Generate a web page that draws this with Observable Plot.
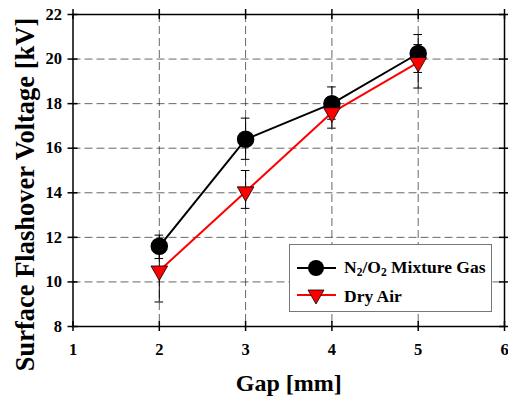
<!DOCTYPE html>
<html>
<head>
<meta charset="utf-8">
<script src="https://cdn.jsdelivr.net/npm/d3@7"></script>
<script src="https://cdn.jsdelivr.net/npm/@observablehq/plot@0.6"></script>
<style>
  html, body { margin: 0; padding: 0; background: #fff; }
  #wrap { position: relative; width: 508px; height: 401px; font-family: "Liberation Serif", "Times New Roman", serif; font-weight: bold; }
  #legend { position: absolute; left: 289px; top: 244px; width: 201px; height: 66px; border: 1.5px solid #777; background: #fff; box-sizing: content-box; }
  .row { position: absolute; left: 6px; display: flex; align-items: center; font-size: 17.5px; color: #000; white-space: nowrap; }
  .row svg { margin-right: 8px; }
  sub { font-size: 11.5px; vertical-align: -3px; line-height: 0; }
</style>
</head>
<body>
<div id="wrap"></div>
<script>
// ---- data ----
const gap = [2, 3, 4, 5];
const n2o2 = [11.6, 16.4, 18.0, 20.25];
const n2o2Lo = [11.05, 15.5, 17.3, 19.4];
const n2o2Hi = [12.1, 17.35, 18.75, 21.1];
const dryAir = [10.5, 14.05, 17.6, 19.85];
const dryLo = [9.1, 13.3, 16.9, 18.7];
const dryHi = [11.9, 15.0, 18.3, 20.65];
const xTicks = [1, 2, 3, 4, 5, 6];
const yTicks = [8, 10, 12, 14, 16, 18, 20, 22];
const xGrid = [2, 3, 4, 5];
const yGrid = [10, 12, 14, 16, 18, 20];
const seriesNames = ["N2/O2 Mixture Gas", "Dry Air"];

const W = 508, H = 401;
const mL = 72.5, mR = 4, mT = 14, mB = 75;
const innerW = W - mL - mR, innerH = H - mT - mB;
const capHalf = 0.05;
const FONT = "'Liberation Serif', 'Times New Roman', serif";

const n2 = gap.map((g, i) => ({x: g, y: n2o2[i], lo: n2o2Lo[i], hi: n2o2Hi[i]}));
const dry = gap.map((g, i) => ({x: g, y: dryAir[i], lo: dryLo[i], hi: dryHi[i]}));

const errMarks = (data) => [
  Plot.ruleX(data, {x: "x", y1: "lo", y2: "hi", stroke: "#000", strokeWidth: 1}),
  Plot.ruleY(data, {y: "lo", x1: d => d.x - capHalf, x2: d => d.x + capHalf, stroke: "#000", strokeWidth: 1}),
  Plot.ruleY(data, {y: "hi", x1: d => d.x - capHalf, x2: d => d.x + capHalf, stroke: "#000", strokeWidth: 1})
];

const chart = Plot.plot({
  width: W, height: H,
  marginLeft: mL, marginRight: mR, marginTop: mT, marginBottom: mB,
  style: {fontFamily: FONT, fontWeight: "bold", background: "#fff", overflow: "visible"},
  x: {domain: [1, 6], axis: null},
  y: {domain: [8, 22], axis: null},
  marks: [
    // grid
    Plot.ruleX(xGrid, {x: d => d, stroke: "#000", strokeOpacity: 0.6, strokeWidth: 1, strokeDasharray: "8,4"}),
    Plot.ruleY(yGrid, {y: d => d, stroke: "#000", strokeOpacity: 0.6, strokeWidth: 1, strokeDasharray: "8,4"}),
    // error bars
    ...errMarks(n2),
    ...errMarks(dry),
    // lines
    Plot.line(n2, {x: "x", y: "y", stroke: "#000", strokeWidth: 2}),
    Plot.line(dry, {x: "x", y: "y", stroke: "#ff0000", strokeWidth: 2}),
    // markers
    Plot.dot(n2, {x: "x", y: "y", r: 8, fill: "#000", stroke: "#000"}),
    Plot.dot(dry, {x: "x", y: "y", r: 6.2, symbol: "triangle", rotate: 180, fill: "#ff0000", stroke: "#000", strokeWidth: 0.8}),
    // frame
    Plot.frame({stroke: "#000", strokeWidth: 1.5}),
    // crossing ticks on four sides
    Plot.tickX(xTicks, {x: d => d, insetTop: innerH - 5, insetBottom: -5, stroke: "#000", strokeWidth: 1.5}),
    Plot.tickX(xTicks, {x: d => d, insetTop: -5, insetBottom: innerH - 5, stroke: "#000", strokeWidth: 1.5}),
    Plot.tickY(yTicks, {y: d => d, insetLeft: -5, insetRight: innerW - 5, stroke: "#000", strokeWidth: 1.5}),
    Plot.tickY(yTicks, {y: d => d, insetLeft: innerW - 5, insetRight: -5, stroke: "#000", strokeWidth: 1.5}),
    // tick labels
    Plot.text(xTicks, {x: d => d, frameAnchor: "bottom", dy: 23, text: d => String(d), fontFamily: FONT, fontSize: 16.5, fontWeight: "bold", fill: "#000", lineAnchor: "middle"}),
    Plot.text(yTicks, {y: d => d, frameAnchor: "left", dx: -11, text: d => String(d), fontFamily: FONT, fontSize: 16.5, fontWeight: "bold", fill: "#000", textAnchor: "end", lineAnchor: "middle"}),
    // axis titles
    Plot.text(["Gap [mm]"], {frameAnchor: "bottom", dy: 57, text: d => d, fontFamily: FONT, fontSize: 24, fontWeight: "bold", fill: "#000", lineAnchor: "middle"}),
    Plot.text(["Surface Flashover Voltage [kV]"], {frameAnchor: "left", dx: -47, dy: 24, rotate: -90, text: d => d, fontFamily: FONT, fontSize: 26.5, fontWeight: "bold", fill: "#000", textAnchor: "middle", lineAnchor: "middle"})
  ]
});

const wrap = document.getElementById("wrap");
wrap.appendChild(chart);

// legend
const legend = document.createElement("div");
legend.id = "legend";
legend.innerHTML = `
  <div class="row" style="top:12px">
    <svg width="40" height="18"><line x1="1" y1="9" x2="40" y2="9" stroke="#000" stroke-width="2"/><circle cx="20" cy="9" r="8" fill="#000"/></svg>
    <span>N<sub>2</sub>/O<sub>2</sub> Mixture Gas</span>
  </div>
  <div class="row" style="top:41px">
    <svg width="40" height="18"><line x1="1" y1="7" x2="40" y2="7" stroke="#ff0000" stroke-width="2"/><path d="M12,2 L28,2 L20,16 Z" fill="#ff0000" stroke="#000" stroke-width="0.8"/></svg>
    <span>Dry Air</span>
  </div>`;
wrap.appendChild(legend);
</script>
</body>
</html>
